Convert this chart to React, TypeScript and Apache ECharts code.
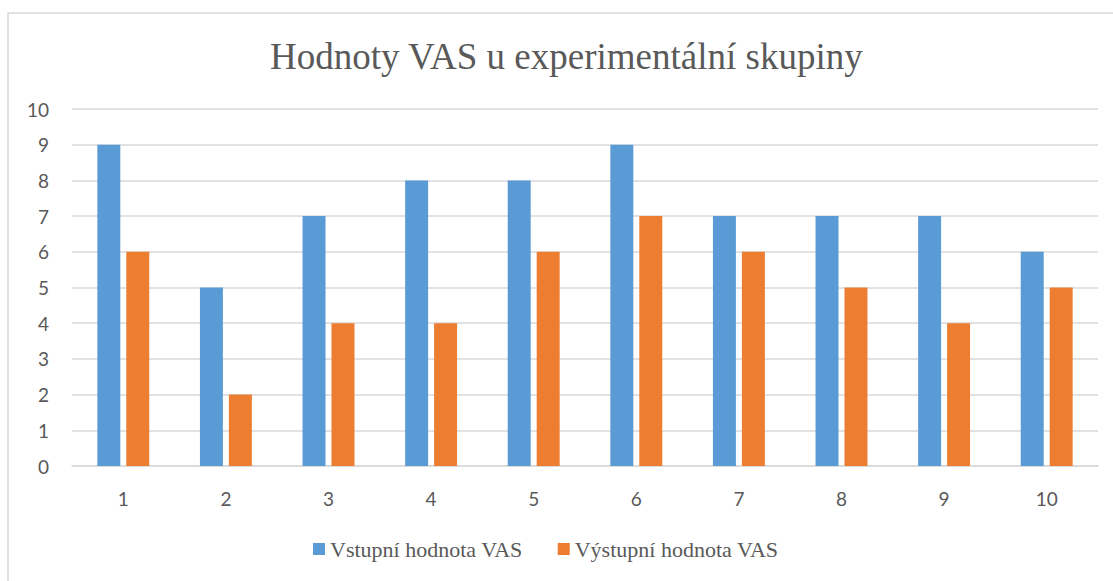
import React, { useEffect, useRef } from "react";
import * as echarts from "echarts";

const categories = ["1", "2", "3", "4", "5", "6", "7", "8", "9", "10"];
const vstupni = [9, 5, 7, 8, 8, 9, 7, 7, 7, 6];
const vystupni = [6, 2, 4, 4, 6, 7, 6, 5, 4, 5];
const seriesNames = ["Vstupní hodnota VAS", "Výstupní hodnota VAS"];
const titleText = "Hodnoty VAS u experimentální skupiny";

export default function App() {
  const ref = useRef<HTMLDivElement>(null);
  useEffect(() => {
    if (!ref.current) return;
    const chart = echarts.init(ref.current, undefined, { renderer: "svg" });
    chart.setOption({
      animation: false,
      backgroundColor: "#ffffff",
      graphic: [
        {
          type: "rect",
          shape: { x: 8, y: 13, width: 1120, height: 600 },
          style: { fill: "none", stroke: "#d9d9d9", lineWidth: 1.5 },
          silent: true,
        },
      ],
      title: {
        text: titleText,
        left: 265,
        top: 33,
        textStyle: {
          fontFamily: "Liberation Serif",
          fontSize: 37,
          fontWeight: "normal",
          color: "#595959",
        },
      },
      legend: {
        bottom: 16,
        left: 308,
        itemWidth: 12,
        itemHeight: 12,
        itemGap: 35,
        icon: "rect",
        textStyle: {
          fontFamily: "Liberation Serif",
          fontSize: 22,
          color: "#595959",
        },
        data: seriesNames,
      },
      grid: { left: 72, right: 15, top: 109, bottom: 115, containLabel: false },
      xAxis: {
        type: "category",
        data: categories,
        axisLine: { lineStyle: { color: "#d9d9d9", width: 1.5 } },
        axisTick: { show: false },
        axisLabel: {
          fontFamily: "Lato",
          fontSize: 19,
          color: "#595959",
          margin: 23,
        },
      },
      yAxis: {
        type: "value",
        min: 0,
        max: 10,
        interval: 1,
        axisLine: { show: false },
        axisTick: { show: false },
        splitLine: { lineStyle: { color: "#d9d9d9", width: 1.5 } },
        axisLabel: {
          fontFamily: "Lato",
          fontSize: 19,
          color: "#595959",
          margin: 23,
        },
      },
      series: [
        {
          name: seriesNames[0],
          type: "bar",
          data: vstupni,
          barWidth: "22.4%",
          barGap: "26%",
          itemStyle: { color: "#5b9bd5" },
        },
        {
          name: seriesNames[1],
          type: "bar",
          data: vystupni,
          barWidth: "22.4%",
          barGap: "26%",
          itemStyle: { color: "#ed7d31" },
        },
      ],
    });
    return () => chart.dispose();
  }, []);
  return (
    <div
      ref={ref}
      style={{ position: "absolute", left: 0, top: 0, width: 1113, height: 581 }}
    />
  );
}
